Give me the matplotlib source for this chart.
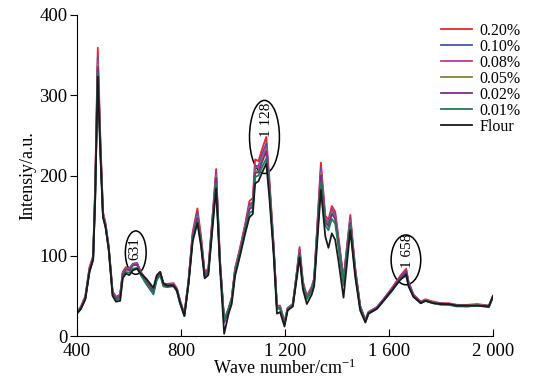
import matplotlib
matplotlib.use("Agg")
import matplotlib.pyplot as plt
from matplotlib.patches import Ellipse

plt.rcParams['font.family'] = ['Liberation Serif', 'DejaVu Serif']
plt.rcParams['mathtext.default'] = 'regular'

wn = [400, 415, 432, 448, 462, 470, 480, 490, 500, 510, 522, 537, 550, 566, 576, 588, 601, 615, 631, 645,
      668, 694, 707, 720, 732, 745, 771, 784, 796, 813, 829, 845, 863, 877, 891, 905, 920, 935, 950, 966,
      983, 995, 1008, 1027, 1047, 1063, 1076, 1085, 1098, 1111, 1128, 1140, 1156, 1169, 1181, 1198, 1210, 1230, 1246, 1256,
      1269, 1284, 1303, 1312, 1338, 1355, 1367, 1380, 1393, 1405, 1425, 1451, 1470, 1489, 1509, 1521, 1553, 1579, 1611, 1643,
      1666, 1675, 1694, 1722, 1740, 1771, 1800, 1830, 1860, 1900, 1940, 1984, 2000]

s020 = [30, 37, 50, 86, 100, 190, 359, 245, 155, 140, 112, 56, 49, 52, 80, 86, 84, 90, 91, 80,
        70, 58, 75, 80, 66, 65, 66, 60, 45, 28, 70, 130, 159, 125, 80, 84, 145, 208, 95, 20,
        35, 48, 85, 110, 140, 168, 172, 220, 218, 232, 248, 195, 115, 38, 38, 18, 35, 40, 82, 111,
        68, 50, 62, 72, 216, 150, 145, 162, 155, 125, 72, 151, 85, 38, 20, 30, 36, 46, 60, 75,
        84, 68, 52, 43, 46, 43, 41, 41, 39, 39, 40, 38, 50]
s010 = [29, 36, 49, 84, 98, 184, 347, 240, 153, 139, 111, 55, 48, 51, 79, 85, 84, 90, 91, 80,
        69, 57, 74, 79, 65, 64, 65, 59, 44, 27, 69, 127, 154, 121, 78, 82, 142, 203, 93, 19,
        34, 47, 83, 108, 138, 164, 167, 212, 212, 226, 240, 190, 113, 37, 37, 17, 35, 40, 81, 108,
        66, 49, 61, 71, 209, 146, 141, 158, 151, 121, 70, 147, 83, 37, 20, 30, 36, 46, 59, 74,
        82, 67, 51, 43, 45, 42, 41, 40, 39, 38, 39, 38, 50]
s008 = [29, 36, 48, 83, 97, 180, 342, 238, 152, 138, 110, 54, 48, 51, 78, 84, 83, 89, 90, 79,
        68, 56, 73, 79, 65, 64, 65, 59, 44, 27, 68, 126, 151, 120, 77, 81, 140, 201, 92, 18,
        33, 46, 82, 107, 137, 162, 165, 210, 210, 222, 236, 188, 112, 36, 36, 17, 34, 39, 80, 107,
        65, 48, 60, 70, 206, 144, 139, 156, 149, 119, 69, 145, 82, 37, 20, 30, 36, 46, 59, 74,
        81, 66, 51, 42, 45, 42, 40, 40, 38, 38, 39, 37, 50]
s005 = [29, 35, 48, 82, 97, 178, 338, 236, 151, 137, 110, 54, 47, 50, 78, 84, 83, 89, 89, 79,
        68, 56, 73, 78, 64, 63, 64, 58, 43, 26, 68, 125, 149, 119, 76, 80, 139, 199, 91, 18,
        33, 46, 81, 106, 136, 160, 163, 205, 206, 219, 233, 186, 111, 36, 36, 16, 34, 39, 79, 105,
        64, 48, 59, 69, 203, 143, 138, 154, 147, 118, 68, 143, 81, 36, 19, 29, 35, 45, 58, 73,
        80, 66, 50, 42, 45, 42, 40, 40, 38, 38, 39, 37, 50]
s002 = [29, 35, 47, 82, 96, 176, 335, 234, 150, 137, 109, 53, 47, 50, 77, 83, 82, 88, 89, 78,
        67, 55, 72, 78, 64, 63, 64, 58, 43, 26, 67, 124, 147, 118, 76, 80, 138, 197, 90, 17,
        32, 45, 80, 105, 135, 158, 161, 203, 204, 216, 230, 184, 110, 35, 35, 16, 33, 38, 78, 104,
        63, 47, 58, 68, 200, 142, 137, 152, 146, 117, 67, 141, 80, 36, 19, 29, 35, 45, 58, 73,
        80, 65, 50, 42, 44, 41, 40, 39, 38, 37, 38, 37, 50]
s001 = [28, 34, 46, 80, 95, 172, 328, 230, 149, 136, 108, 51, 45, 47, 74, 80, 79, 84, 85, 76,
        64, 52, 70, 76, 62, 61, 62, 56, 41, 25, 66, 121, 143, 115, 74, 78, 134, 190, 88, 20,
        34, 46, 79, 103, 132, 153, 156, 198, 200, 210, 221, 180, 108, 34, 34, 15, 33, 38, 77, 101,
        62, 46, 57, 67, 192, 138, 132, 146, 140, 112, 63, 137, 78, 35, 18, 28, 34, 44, 56, 71,
        75, 63, 49, 41, 44, 41, 39, 39, 37, 37, 38, 36, 49]
flour = [28, 34, 46, 80, 95, 170, 323, 225, 148, 135, 108, 50, 43, 44, 72, 78, 76, 82, 84, 78,
         71, 60, 76, 80, 66, 63, 63, 57, 42, 25, 65, 118, 141, 112, 72, 76, 130, 184, 85, 3,
         28, 40, 75, 100, 128, 148, 152, 190, 193, 203, 215, 172, 103, 28, 30, 12, 32, 37, 74, 98,
         58, 40, 52, 62, 182, 124, 110, 128, 120, 95, 48, 132, 74, 32, 17, 28, 34, 44, 57, 70,
         77, 62, 49, 41, 44, 41, 40, 40, 38, 38, 38, 37, 50]

labels = ['0.20%', '0.10%', '0.08%', '0.05%', '0.02%', '0.01%', 'Flour']
series = [s020, s010, s008, s005, s002, s001, flour]
colors = ['#e8262b', '#4a52b4', '#b8399e', '#82803f', '#7b2d92', '#1c7c57', '#1a1a1a']

xticks = [400, 800, 1200, 1600, 2000]
xticklabels = ['400', '800', '1 200', '1 600', '2 000']
yticks = [0, 100, 200, 300, 400]

peak_labels = ['631', '1 128', '1 658']
peak_text_pos = [(622, 109), (1130, 269), (1671, 106)]
ellipse_centers = [(626, 104), (1121, 248), (1665, 95)]
ellipse_sizes = [(80, 54), (115, 91), (114, 62)]

fig = plt.figure(figsize=(5.46, 3.90), dpi=100)
ax = fig.add_axes([0.141, 0.138, 0.762, 0.824])

for s, c, lab in zip(series, colors, labels):
    ax.plot(wn, s, color=c, lw=1.3, label=lab)

for (cx, cy), (w, h) in zip(ellipse_centers, ellipse_sizes):
    ax.add_patch(Ellipse((cx, cy), w, h, fill=False, edgecolor='black', lw=1.1))
for t, (tx, ty) in zip(peak_labels, peak_text_pos):
    ax.text(tx, ty, t, rotation=90, ha='center', va='center', fontsize=11)

ax.set_xlim(400, 2000)
ax.set_ylim(0, 400)
ax.set_xticks(xticks)
ax.set_xticklabels(xticklabels)
ax.set_yticks(yticks)
ax.tick_params(axis='x', direction='in', length=5, labelsize=13.5, pad=5)
ax.tick_params(axis='y', direction='out', length=5, labelsize=13.5, pad=2)
ax.spines['top'].set_visible(False)
ax.spines['right'].set_visible(False)
ax.set_xlabel('Wave number/cm$^{-1}$', fontsize=13, labelpad=-1)
ax.set_ylabel('Intensiy/a.u.', fontsize=13, labelpad=2)

leg = ax.legend(loc='upper right', bbox_to_anchor=(1.082, 0.995), frameon=False, fontsize=11.5,
                handlelength=1.9, handletextpad=0.5, labelspacing=0.0, borderaxespad=0)

fig.savefig('out.png', dpi=100)
